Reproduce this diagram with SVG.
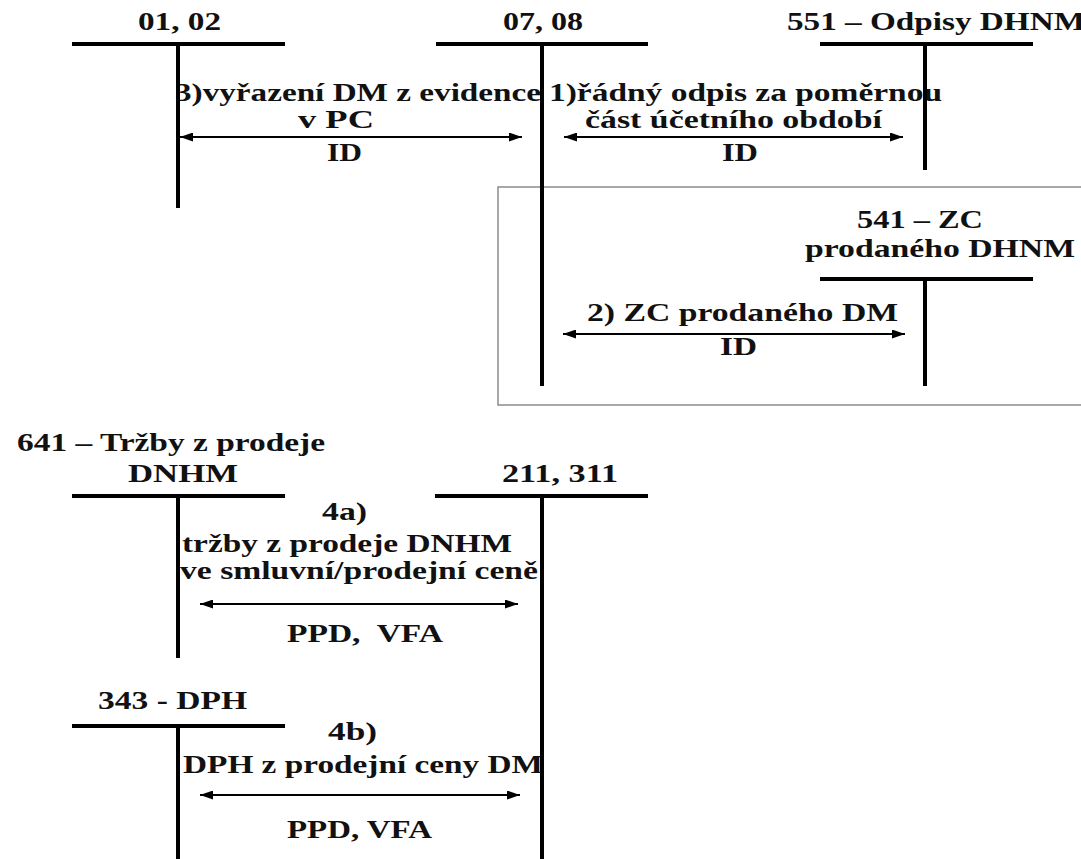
<svg xmlns="http://www.w3.org/2000/svg" width="1081" height="859" viewBox="0 0 1081 859" font-family="Liberation Serif, Times New Roman, serif" font-weight="700">
<style>
text{font-family:'Liberation Serif','Times New Roman',serif;font-weight:700;font-size:25px;fill:#111}
.acc{stroke:#000;stroke-width:4;fill:none}
.arr{stroke:#000;stroke-width:2;fill:none;marker-start:url(#ah);marker-end:url(#ah)}
.frame{fill:none;stroke:#8c8c8c;stroke-width:1.5}
</style>
<defs>
<marker id="ah" viewBox="0 0 13 9" refX="13" refY="4.5" markerWidth="13" markerHeight="9" markerUnits="userSpaceOnUse" orient="auto-start-reverse">
<path d="M0,0 L13,4.5 L0,9 z" fill="#000"/>
</marker>
</defs>
<rect id="frame" class="frame" x="498" y="187" width="600" height="218"/>
<g id="connectors">
<g id="c3">
<line class="arr" x1="180" y1="137" x2="522" y2="137"/>
<text x="175" y="101" textLength="366" lengthAdjust="spacingAndGlyphs">3)vyřazení DM z evidence</text>
<text x="298" y="128" textLength="76" lengthAdjust="spacingAndGlyphs">v PC</text>
<text x="327" y="161" textLength="35" lengthAdjust="spacingAndGlyphs">ID</text>
</g>
<g id="c1">
<line class="arr" x1="564" y1="137" x2="903" y2="137"/>
<text x="549" y="101" textLength="393" lengthAdjust="spacingAndGlyphs">1)řádný odpis za poměrnou</text>
<text x="585" y="128" textLength="297" lengthAdjust="spacingAndGlyphs">část účetního období</text>
<text x="722" y="161" textLength="36" lengthAdjust="spacingAndGlyphs">ID</text>
</g>
<g id="c2">
<line class="arr" x1="563" y1="334" x2="905" y2="334"/>
<text x="587" y="321" textLength="311" lengthAdjust="spacingAndGlyphs">2) ZC prodaného DM</text>
<text x="720" y="355" textLength="37" lengthAdjust="spacingAndGlyphs">ID</text>
</g>
<g id="c4a">
<line class="arr" x1="200" y1="604" x2="518" y2="604"/>
<text x="322" y="520" textLength="45" lengthAdjust="spacingAndGlyphs">4a)</text>
<text x="182" y="552" textLength="330" lengthAdjust="spacingAndGlyphs">tržby z prodeje DNHM</text>
<text x="180" y="579" textLength="358" lengthAdjust="spacingAndGlyphs">ve smluvní/prodejní ceně</text>
<text x="287" y="642" textLength="156" lengthAdjust="spacingAndGlyphs" xml:space="preserve">PPD,  VFA</text>
</g>
<g id="c4b">
<line class="arr" x1="200" y1="795" x2="520" y2="795"/>
<text x="328" y="740" textLength="49" lengthAdjust="spacingAndGlyphs">4b)</text>
<text x="183" y="773" textLength="360" lengthAdjust="spacingAndGlyphs">DPH z prodejní ceny DM</text>
<text x="287" y="838" textLength="145" lengthAdjust="spacingAndGlyphs">PPD, VFA</text>
</g>
</g>
<g id="acc0102">
<text x="138" y="30" textLength="83" lengthAdjust="spacingAndGlyphs">01, 02</text>
<line class="acc" x1="72" y1="44" x2="285" y2="44"/>
<line class="acc" x1="178" y1="44" x2="178" y2="208"/>
</g>
<g id="acc0708">
<text x="503" y="30" textLength="80" lengthAdjust="spacingAndGlyphs">07, 08</text>
<line class="acc" x1="436" y1="44" x2="648" y2="44"/>
<line class="acc" x1="542" y1="44" x2="542" y2="386"/>
</g>
<g id="acc551">
<text x="787" y="30" textLength="298" lengthAdjust="spacingAndGlyphs">551 – Odpisy DHNM</text>
<line class="acc" x1="820" y1="44" x2="1033" y2="44"/>
<line class="acc" x1="925" y1="44" x2="925" y2="170"/>
</g>
<g id="acc541">
<text x="857" y="228" textLength="126" lengthAdjust="spacingAndGlyphs">541 – ZC</text>
<text x="805" y="257" textLength="270" lengthAdjust="spacingAndGlyphs">prodaného DHNM</text>
<line class="acc" x1="820" y1="279" x2="1033" y2="279"/>
<line class="acc" x1="925" y1="279" x2="925" y2="386"/>
</g>
<g id="acc641">
<text x="17" y="451" textLength="308" lengthAdjust="spacingAndGlyphs">641 – Tržby z prodeje</text>
<text x="128" y="482" textLength="110" lengthAdjust="spacingAndGlyphs">DNHM</text>
<line class="acc" x1="72" y1="496" x2="285" y2="496"/>
<line class="acc" x1="178" y1="496" x2="178" y2="658"/>
</g>
<g id="acc211">
<text x="502" y="482" textLength="116" lengthAdjust="spacingAndGlyphs">211, 311</text>
<line class="acc" x1="435" y1="496" x2="648" y2="496"/>
<line class="acc" x1="542" y1="496" x2="542" y2="859"/>
</g>
<g id="acc343">
<text x="98" y="709" textLength="149" lengthAdjust="spacingAndGlyphs">343 - DPH</text>
<line class="acc" x1="72" y1="726" x2="285" y2="726"/>
<line class="acc" x1="178" y1="726" x2="178" y2="859"/>
</g>
</svg>
